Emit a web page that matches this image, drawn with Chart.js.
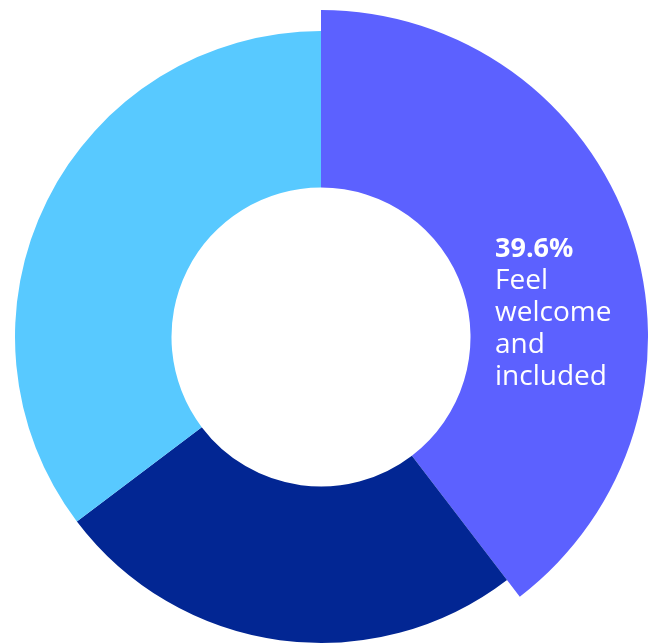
<!DOCTYPE html>
<html>
<head>
<meta charset="utf-8">
<script src="https://cdn.jsdelivr.net/npm/chart.js@4"></script>
<style>
  html, body { margin: 0; padding: 0; background: #fff; }
  #wrap { width: 660px; height: 644px; }
</style>
</head>
<body>
<div id="wrap"><canvas id="chart1"></canvas></div>
<script>
const categories = ['Feel welcome and included', 'Other', 'Other 2'];
const values = [39.6, 25.1, 35.3];
const colors = ['#5C61FF', '#022693', '#58C9FF'];
const labelLines = ['Feel', 'welcome', 'and', 'included'];

// first slice sticks out past the others
const popOut = {
  id: 'popOut',
  afterDatasetsUpdate(chart) {
    const arc = chart.getDatasetMeta(0).data[0];
    arc.outerRadius = arc.outerRadius + 21;
  }
};

const sliceLabel = {
  id: 'sliceLabel',
  afterDatasetsDraw(chart) {
    const arc = chart.getDatasetMeta(0).data[0];
    const c = chart.ctx;
    const x = arc.x + 174;
    let y = arc.y - 80;
    c.save();
    c.fillStyle = '#fff';
    c.textAlign = 'left';
    c.textBaseline = 'alphabetic';
    c.font = 'bold 27px "Open Sans"';
    c.fillText(values[0] + '%', x, y);
    c.font = '28px "Open Sans"';
    labelLines.forEach(line => {
      y += 32;
      c.fillText(line, x, y);
    });
    c.restore();
  }
};

const ctx = document.getElementById('chart1');
new Chart(ctx, {
  type: 'doughnut',
  data: {
    labels: categories,
    datasets: [{
      data: values,
      backgroundColor: colors,
      borderWidth: 0,
      clip: false
    }]
  },
  options: {
    responsive: true,
    maintainAspectRatio: false,
    animation: false,
    radius: 306,
    cutout: 150,
    layout: { padding: { left: 0, right: 18, top: 30, bottom: 0 } },
    plugins: {
      legend: { display: false },
      tooltip: { enabled: false }
    }
  },
  plugins: [popOut, sliceLabel]
});
</script>
</body>
</html>
